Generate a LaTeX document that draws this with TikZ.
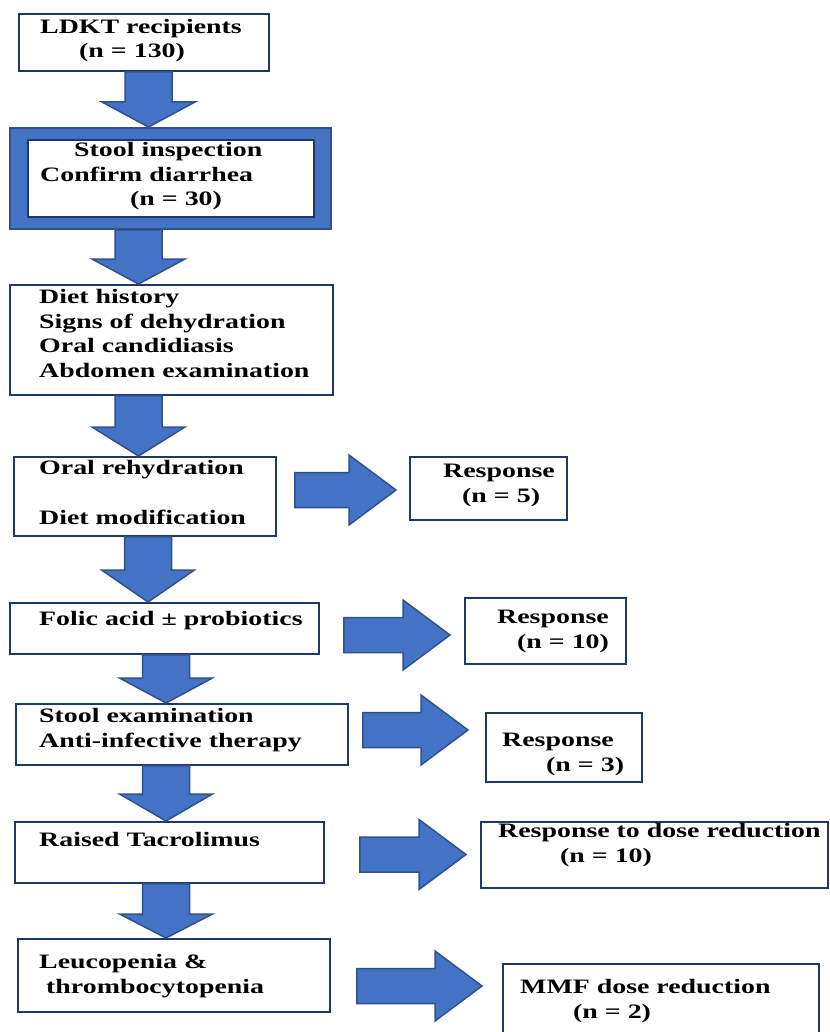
\documentclass[tikz,border=0pt]{standalone}
\usepackage{fontspec}
\setmainfont{Liberation Serif}[FakeStretch=1.36]
\usetikzlibrary{calc}
\definecolor{arrowblue}{HTML}{4472C4}
\definecolor{arrowline}{HTML}{2F528F}
\definecolor{boxline}{HTML}{1F3864}
\tikzset{
  box/.style = {
    draw=boxline,
    line width=1.8pt,
    fill=white,
    anchor=north west,
    inner sep=0pt
  },
  frame/.style = {box, fill=arrowblue, draw=arrowline},
  txt/.style = {
    anchor=base west,
    align=left,
    inner sep=0pt,
    font=\bfseries\fontsize{20.5}{24.5}\selectfont
  },
  blockarrow/.style = {fill=arrowblue, draw=arrowline, line width=1.5pt}
}
% block arrow down: from, to, x of the shaft, head length
\newcommand{\dnblock}[4]{%
  \filldraw[blockarrow] let \p1=(#1.south), \p2=(#2.north), \p3=(#3,0) in
    (\x3-23.5pt,\y1) -- (\x3+23.5pt,\y1) -- (\x3+23.5pt,\y2+#4pt)
    -- (\x3+46.5pt,\y2+#4pt) -- (\x3,\y2) -- (\x3-46.5pt,\y2+#4pt)
    -- (\x3-23.5pt,\y2+#4pt) -- cycle;
}
% block arrow right: from, to, y of the shaft, gap left, gap right
\newcommand{\rtblock}[5]{%
  \filldraw[blockarrow] let \p1=(#1.east), \p2=(#2.west), \p3=(0,#3) in
    (\x1+#4pt,\y3+17.5pt) -- (\x2-#5pt-47pt,\y3+17.5pt) -- (\x2-#5pt-47pt,\y3+35pt)
    -- (\x2-#5pt,\y3) -- (\x2-#5pt-47pt,\y3-35pt) -- (\x2-#5pt-47pt,\y3-17.5pt)
    -- (\x1+#4pt,\y3-17.5pt) -- cycle;
}
\begin{document}
\begin{tikzpicture}[x=1pt,y=-1pt]
  \useasboundingbox (0,0) rectangle (829,1032);
  % main column
  \node[box, minimum width=250pt, minimum height=57pt] (ldkt) at (18,13) {};
  \node[frame, minimum width=321pt, minimum height=101pt] (inspect) at (9,127) {};
  \node[box, minimum width=286pt, minimum height=77pt] (inspectin) at (27,139) {};
  \node[box, minimum width=323pt, minimum height=110pt] (history) at (9,284) {};
  \node[box, minimum width=262pt, minimum height=79pt] (rehyd) at (13,456) {};
  \node[box, minimum width=309pt, minimum height=51pt] (folic) at (9,602) {};
  \node[box, minimum width=332pt, minimum height=61pt] (stoolex) at (15,703) {};
  \node[box, minimum width=309pt, minimum height=61pt] (tacro) at (14,821) {};
  \node[box, minimum width=312pt, minimum height=73pt] (leuco) at (17,938) {};
  % responses
  \node[box, minimum width=157pt, minimum height=63pt] (resp1) at (409,456) {};
  \node[box, minimum width=161pt, minimum height=66pt] (resp2) at (464,597) {};
  \node[box, minimum width=156pt, minimum height=69pt] (resp3) at (485,712) {};
  \node[box, minimum width=347pt, minimum height=66pt] (resp4) at (480,821) {};
  \node[box, minimum width=316pt, minimum height=90pt] (resp5) at (502,963) {};
  % texts (base = last line)
  \node[txt] (ldkttxt) at (40,58) {LDKT recipients\\\hspace*{39pt}(n = 130)};
  \node[txt] (inspecttxt) at (40,206) {\hspace*{34pt}Stool inspection\\Confirm diarrhea\\\hspace*{90pt}(n = 30)};
  \node[txt] (historytxt) at (39,377) {Diet history\\Signs of dehydration\\Oral candidiasis\\Abdomen examination};
  \node[txt] (rehydtxt) at (39,524) {Oral rehydration\\[25pt]Diet modification};
  \node[txt] (folictxt) at (39,625) {Folic acid ± probiotics};
  \node[txt] (stoolextxt) at (39,747) {Stool examination\\Anti-infective therapy};
  \node[txt] (tacrotxt) at (39,846) {Raised Tacrolimus};
  \node[txt] (leucotxt) at (39,993) {Leucopenia \&\\\hspace*{7pt}thrombocytopenia};
  \node[txt] (resp1txt) at (443,502) {Response\\\hspace*{19pt}(n = 5)};
  \node[txt] (resp2txt) at (497,648) {Response\\\hspace*{20pt}(n = 10)};
  \node[txt] (resp3txt) at (502,771) {Response\\\hspace*{44pt}(n = 3)};
  \node[txt] (resp4txt) at (498,862) {Response to dose reduction\\\hspace*{62pt}(n = 10)};
  \node[txt] (resp5txt) at (520,1018) {MMF dose reduction\\\hspace*{53pt}(n = 2)};
  % arrows down
  \dnblock{ldkt}{inspect}{148.5}{25}
  \dnblock{inspect}{history}{138.5}{25}
  \dnblock{history}{rehyd}{138.5}{29}
  \dnblock{rehyd}{folic}{148}{32}
  \dnblock{folic}{stoolex}{166}{25}
  \dnblock{stoolex}{tacro}{166}{27}
  \dnblock{tacro}{leuco}{166}{24}
  % arrows right
  \rtblock{rehyd}{resp1}{490}{18}{13}
  \rtblock{folic}{resp2}{635}{24}{14}
  \rtblock{stoolex}{resp3}{730}{14}{17}
  \rtblock{tacro}{resp4}{854.5}{35}{14}
  \rtblock{leuco}{resp5}{986}{26}{20}
\end{tikzpicture}
\end{document}
